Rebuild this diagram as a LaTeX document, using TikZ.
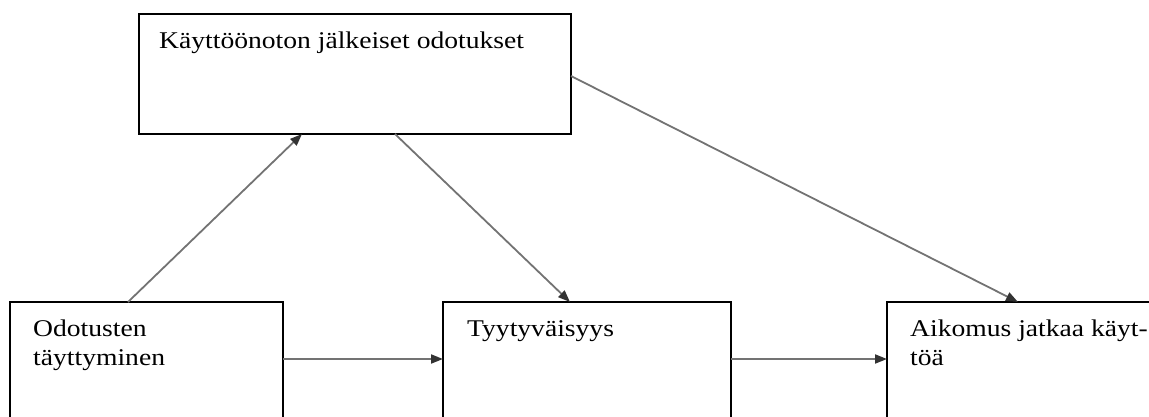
\documentclass[tikz,border=0pt]{standalone}
\usepackage{fontspec}
\setmainfont{Liberation Serif}[FakeStretch=1.15]
\usetikzlibrary{arrows.meta}
\begin{document}
\begin{tikzpicture}[x=1pt,y=-1pt,
  box/.style={draw=black,line width=2.2pt,fill=white,inner sep=0pt,outer sep=0pt,
    anchor=north west},
  txt/.style={anchor=north west,inner sep=0pt,align=left,
    font=\fontsize{24}{29}\selectfont},
  link/.style={draw=black!55,line width=1.8pt,
    -{Triangle[length=12pt,width=9pt,color=black!80]}}]
  \useasboundingbox (0,0) rectangle (1149,417);
  \clip (0,0) rectangle (1149,417);
  % the four concept boxes (the lower three run on below the frame)
  \node[box,minimum width=432pt,minimum height=120pt] (top) at (139,14) {};
  \node[box,minimum width=273pt,minimum height=140pt] (o) at (10,302) {};
  \node[box,minimum width=288pt,minimum height=140pt] (t) at (443,302) {};
  \node[box,minimum width=300pt,minimum height=140pt] (a) at (887,302) {};
  % box captions
  \node[txt] (toplbl) at ([xshift=20pt,yshift=-18pt]top.north west) {Käyttöönoton jälkeiset odotukset};
  \node[txt] (olbl) at ([xshift=23pt,yshift=-18pt]o.north west) {Odotusten\\täyttyminen};
  \node[txt] (tlbl) at ([xshift=24pt,yshift=-18pt]t.north west) {Tyytyväisyys};
  \node[txt] (albl) at ([xshift=23pt,yshift=-18pt]a.north west) {Aikomus jatkaa käyt-\\töä};
  % connections between the concepts
  \draw[link] ([xshift=118pt]o.north west) -- ([xshift=163pt]top.south west);
  \draw[link] ([xshift=256pt]top.south west) -- ([xshift=127pt]t.north west);
  \draw[link] ([yshift=-62pt]top.north east) -- ([xshift=131pt]a.north west);
  \draw[link] ([yshift=-57pt]o.north east) -- ([yshift=-57pt]t.north west);
  \draw[link] ([yshift=-57pt]t.north east) -- ([yshift=-57pt]a.north west);
\end{tikzpicture}
\end{document}
